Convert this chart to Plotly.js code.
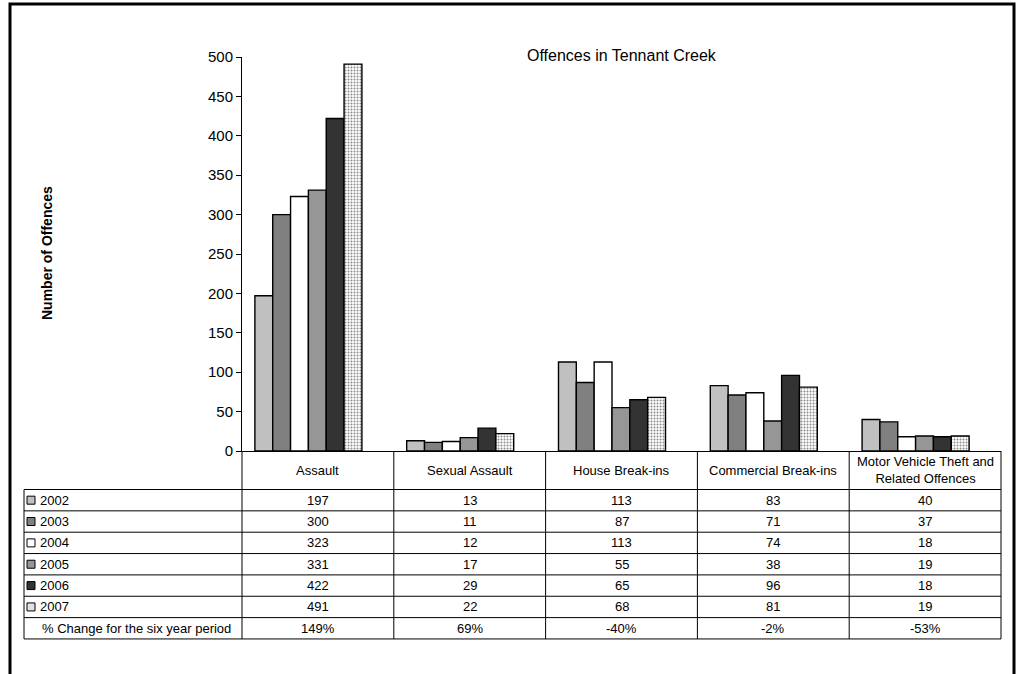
<!DOCTYPE html>
<html>
<head>
<meta charset="utf-8">
<script src="https://cdn.plot.ly/plotly-3.0.1.min.js"></script>
<style>html,body{margin:0;padding:0;background:#fff;}#chart{width:1018px;height:674px;}</style>
</head>
<body>
<div id="chart"></div>
<script>
// ---- data ----
const categories = ["Assault", "Sexual Assault", "House Break-ins", "Commercial Break-ins", "Motor Vehicle Theft and<br>Related Offences"];
const years = ["2002", "2003", "2004", "2005", "2006", "2007"];
const v2002 = [197, 13, 113, 83, 40];
const v2003 = [300, 11, 87, 71, 37];
const v2004 = [323, 12, 113, 74, 18];
const v2005 = [331, 17, 55, 38, 19];
const v2006 = [422, 29, 65, 96, 18];
const v2007 = [491, 22, 68, 81, 19];
const pctChange = ["149%", "69%", "-40%", "-2%", "-53%"];
const pctLabel = "% Change for the six year period";
const chartTitle = "Offences in Tennant Creek";
const yTitle = "Number of Offences";
const yTicks = [0, 50, 100, 150, 200, 250, 300, 350, 400, 450, 500];

const series = [v2002, v2003, v2004, v2005, v2006, v2007];
const colors = ["#c0c0c0", "#808080", "#ffffff", "#969696", "#333333", "#ffffff"];

// ---- geometry helpers (pixel -> paper) ----
const L = 242, R = 1001, T = 57, B = 451;
const W = R - L, H = B - T;
const px = x => (x - L) / W;
const py = y => (B - y) / H;
const FONT = "Liberation Sans, Arial, sans-serif";
const TFS = 13;

const xs = categories.map((c, i) => i);
const traces = series.map((vals, j) => {
  const t = {
    type: "bar",
    name: years[j],
    x: xs,
    y: vals,
    marker: { color: colors[j], line: { color: "#000", width: 1.4 } },
    hoverinfo: "y+name"
  };
  if (j === 5) {
    t.marker.pattern = { shape: ".", bgcolor: "#ffffff", fgcolor: "#8a8a8a", size: 3, solidity: 0.35 };
  }
  return t;
});

const shapes = [];
const annotations = [];

// outer frame
shapes.push({ type: "path", xref: "paper", yref: "paper",
  path: `M ${px(10)} ${py(700)} L ${px(10)} ${py(4)} L ${px(1014)} ${py(4)} L ${px(1014)} ${py(700)}`,
  line: { color: "#000", width: 3 } });

// table geometry
const tableLeft = 24;
const rowTop = 489.5, rowH = 21.35;
const nRows = 7;
const colX = [0, 1, 2, 3, 4, 5].map(k => L + k * W / 5);
const lineStyle = { color: "#000", width: 1 };

// horizontal lines
for (let r = 0; r <= nRows; r++) {
  const y = rowTop + r * rowH;
  shapes.push({ type: "line", xref: "paper", yref: "paper", x0: px(tableLeft), x1: px(R), y0: py(y), y1: py(y), line: lineStyle });
}
// vertical lines
const tableBottom = rowTop + nRows * rowH;
shapes.push({ type: "line", xref: "paper", yref: "paper", x0: px(tableLeft), x1: px(tableLeft), y0: py(rowTop), y1: py(tableBottom), line: lineStyle });
colX.forEach(x => {
  shapes.push({ type: "line", xref: "paper", yref: "paper", x0: px(x), x1: px(x), y0: py(B), y1: py(tableBottom), line: lineStyle });
});

// category header labels
categories.forEach((c, i) => {
  annotations.push({ xref: "paper", yref: "paper", x: px((colX[i] + colX[i + 1]) / 2), y: py(470),
    text: c, showarrow: false, xanchor: "center", yanchor: "middle",
    font: { family: FONT, size: TFS, color: "#000" } });
});

// data rows
series.forEach((vals, j) => {
  const yc = rowTop + (j + 0.5) * rowH;
  shapes.push({ type: "rect", xref: "paper", yref: "paper", x0: px(27), x1: px(35), y0: py(yc - 4), y1: py(yc + 4),
    fillcolor: j === 5 ? "#e2e2e2" : colors[j], line: { color: "#000", width: 1 } });
  annotations.push({ xref: "paper", yref: "paper", x: px(38), y: py(yc), text: years[j], showarrow: false,
    xanchor: "left", yanchor: "middle", font: { family: FONT, size: TFS, color: "#000" } });
  vals.forEach((v, i) => {
    annotations.push({ xref: "paper", yref: "paper", x: px((colX[i] + colX[i + 1]) / 2), y: py(yc), text: String(v),
      showarrow: false, xanchor: "center", yanchor: "middle", font: { family: FONT, size: TFS, color: "#000" } });
  });
});
// percent row
{
  const yc = rowTop + 6.5 * rowH;
  annotations.push({ xref: "paper", yref: "paper", x: px(136), y: py(yc), text: pctLabel, showarrow: false,
    xanchor: "center", yanchor: "middle", font: { family: FONT, size: TFS, color: "#000" } });
  pctChange.forEach((p, i) => {
    annotations.push({ xref: "paper", yref: "paper", x: px((colX[i] + colX[i + 1]) / 2), y: py(yc), text: p,
      showarrow: false, xanchor: "center", yanchor: "middle", font: { family: FONT, size: TFS, color: "#000" } });
  });
}

// title and y title
annotations.push({ xref: "paper", yref: "paper", x: 0.5, y: py(55), text: chartTitle, showarrow: false,
  xanchor: "center", yanchor: "middle", font: { family: FONT, size: 16, color: "#000" } });
annotations.push({ xref: "paper", yref: "paper", x: px(47), y: py(253), text: "<b>" + yTitle + "</b>", showarrow: false,
  textangle: -90, xanchor: "center", yanchor: "middle", font: { family: FONT, size: 14, color: "#000" } });

const shift = 0.0626;
const layout = {
  width: 1018, height: 674,
  margin: { l: L, r: 1018 - R, t: T, b: 674 - B, pad: 0 },
  paper_bgcolor: "#ffffff", plot_bgcolor: "#ffffff",
  showlegend: false,
  barmode: "group", bargap: 0.295, bargroupgap: 0,
  xaxis: { range: [-0.5 + shift, 4.5 + shift], showticklabels: false, ticks: "", showgrid: false, zeroline: false,
    showline: true, linecolor: "#000", linewidth: 1, fixedrange: true },
  yaxis: { range: [0, 500], tickvals: yTicks, ticks: "outside", ticklen: 5, tickcolor: "#000", tickwidth: 1,
    showline: true, linecolor: "#000", linewidth: 1, showgrid: false, zeroline: false,
    tickfont: { family: FONT, size: 15, color: "#000" }, fixedrange: true },
  shapes: shapes,
  annotations: annotations
};

Plotly.newPlot("chart", traces, layout, { displayModeBar: false, staticPlot: true });
</script>
</body>
</html>
